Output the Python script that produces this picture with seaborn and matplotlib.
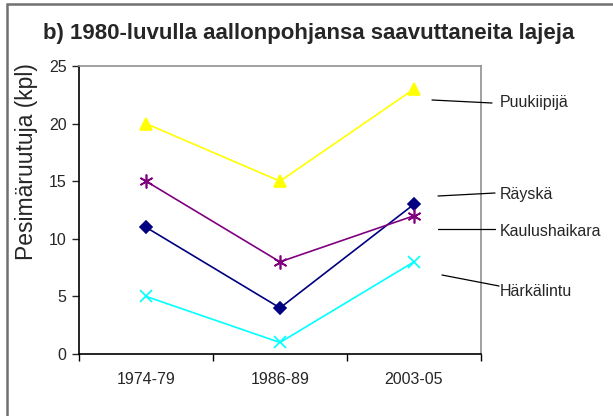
import matplotlib
matplotlib.use('Agg')
import matplotlib.pyplot as plt
from matplotlib.patches import Rectangle
from matplotlib.lines import Line2D
import seaborn as sns

sns.set_style('white')
plt.rcParams['font.family'] = ['Liberation Sans', 'DejaVu Sans']

periods = ['1974-79', '1986-89', '2003-05']
species = ['Puukiipijä', 'Räyskä', 'Kaulushaikara', 'Härkälintu']
puukiipija = [20, 15, 23]
rayska = [11, 4, 13]
kaulushaikara = [15, 8, 12]
harkalintu = [5, 1, 8]
yticks = [0, 5, 10, 15, 20, 25]

W, H = 613, 416


def fx(px):
    return px / W


def fy(py):
    return 1 - py / H


fig = plt.figure(figsize=(W / 100, H / 100), dpi=100)
ax = fig.add_axes([fx(79), fy(354), fx(481) - fx(79), fy(66) - fy(354)])

series = [
    (puukiipija, '#FFFF00', '^', 9),
    (rayska, '#000080', 'D', 6.5),
    (kaulushaikara, '#800080', (6, 2, 0), 10),
    (harkalintu, '#00FFFF', 'x', 9),
]
for vals, color, marker, ms in series:
    sns.lineplot(x=periods, y=vals, ax=ax, color=color, linewidth=1.2,
                 marker=marker, markersize=ms, markerfacecolor=color,
                 markeredgecolor=color, markeredgewidth=1.2, sort=False)

ax.set_xlim(-0.5, 2.5)
ax.set_ylim(0, 25)
ax.set_yticks(yticks)
ax.set_xticks([-0.5, 0.5, 1.5, 2.5], minor=True)
ax.tick_params(axis='x', which='major', length=0, pad=13, labelsize=11.5)
ax.tick_params(axis='x', which='minor', length=5, width=1, direction='out',
               bottom=True, color='black')
ax.tick_params(axis='y', length=5, width=1, direction='out', left=True,
               pad=4, labelsize=11.5)
ax.set_xlabel('')
ax.set_ylabel('')

for side in ['left', 'bottom']:
    ax.spines[side].set_color('black')
    ax.spines[side].set_linewidth(1.2)
for side in ['top', 'right']:
    ax.spines[side].set_color('#909090')
    ax.spines[side].set_linewidth(1.2)

fig.text(0.503, fy(33), 'b) 1980-luvulla aallonpohjansa saavuttaneita lajeja',
         ha='center', va='center', fontsize=16, fontweight='bold')
fig.text(fx(26), fy(162), 'Pesimäruutuja (kpl)', rotation=90,
         ha='center', va='center', fontsize=16.5)

# species labels with leader lines
label_pos = [
    ((432, 100), (492, 103), (500, 103)),
    ((438, 196), (495, 193), (500, 195)),
    ((438, 229), (495, 229), (500, 232)),
    ((442, 275), (499, 286), (500, 291)),
]
for name, (p0, p1, pt) in zip(species, label_pos):
    fig.add_artist(Line2D([fx(p0[0]), fx(p1[0])], [fy(p0[1]), fy(p1[1])],
                          color='black', linewidth=0.9))
    fig.text(fx(pt[0]), fy(pt[1]), name, ha='left', va='center', fontsize=11.5)

# outer chart frame
fig.add_artist(Rectangle((fx(7), -0.1), 1.2, fy(4) + 0.1, fill=False,
                         edgecolor='#707070', linewidth=1.8,
                         transform=fig.transFigure))

fig.savefig('out.png', dpi=100)
